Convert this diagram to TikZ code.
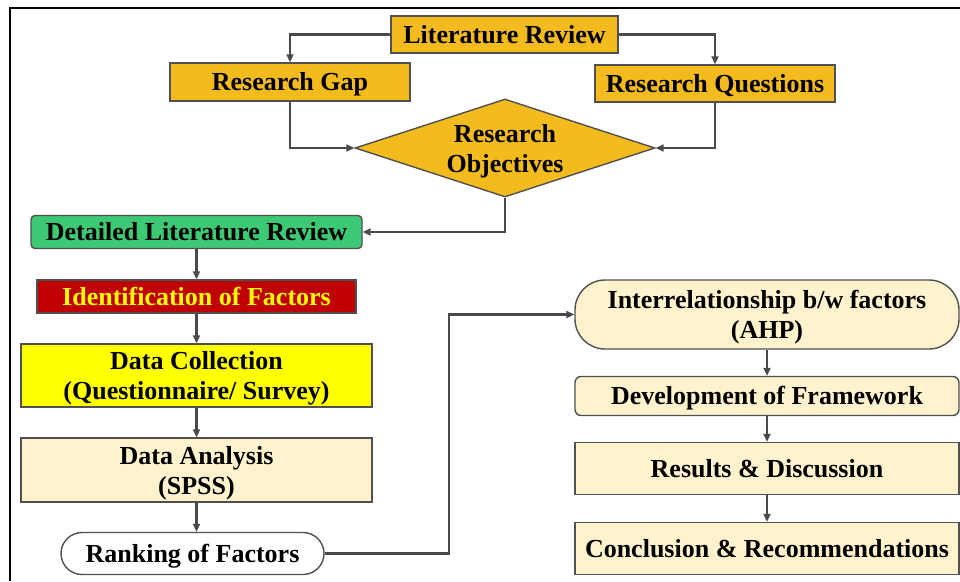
\documentclass[tikz,border=0pt]{standalone}
\usepackage{fontspec}
\setmainfont{Liberation Serif}
\usetikzlibrary{shapes.geometric,arrows.meta}
\definecolor{boxline}{HTML}{505050}
\definecolor{flowgray}{HTML}{4A4A4A}
\definecolor{goldfill}{HTML}{F4BB1F}
\definecolor{greenfill}{HTML}{3DC974}
\definecolor{redfill}{HTML}{C00000}
\definecolor{yellowfill}{HTML}{FFFF00}
\definecolor{creamfill}{HTML}{FFF2CC}
\begin{document}
\begin{tikzpicture}[
                x=1pt, y=-1pt,
                stage/.style={draw=boxline, line width=1.4pt, inner sep=0pt, align=center,
                    font=\fontsize{26}{30}\selectfont\bfseries, text height=18pt, text depth=1pt},
                twoline/.style={text height=48pt, text depth=0pt},
                gold/.style={stage, fill=goldfill},
                cream/.style={stage, fill=creamfill},
                flow/.style={draw=flowgray, line width=2.2pt, -{Triangle[length=8pt,width=7pt]}},
            ]
            \useasboundingbox (0,0) rectangle (960,581);
            \draw[line width=1.5pt] (10,581) -- (10,8) -- (960,8);

            % top block
            \node[gold, minimum width=227pt, minimum height=37pt] (lit) at (504.5,34.5) {Literature Review};
            \node[gold, minimum width=240pt, minimum height=38pt] (gap) at (290,82) {Research Gap};
            \node[gold, minimum width=240pt, minimum height=37pt] (ques) at (715,83.5) {Research Questions};
            \node[gold, diamond, minimum width=300pt, minimum height=98pt] (obj) at (505,148) {};
            \node[stage, twoline, draw=none] (objtext) at (obj.center) {Research\\Objectives};

            % left column
            \node[stage, fill=greenfill, rounded corners=4pt, minimum width=331pt, minimum height=33pt] (dlr) at (196.5,232) {Detailed Literature Review};
            \node[stage, fill=redfill, text=yellowfill, minimum width=319pt, minimum height=33pt] (ident) at (196.5,296.5) {Identification of Factors};
            \node[stage, twoline, fill=yellowfill, minimum width=351pt, minimum height=63pt] (coll) at (196.5,375.5) {Data Collection\\(Questionnaire/ Survey)};
            \node[cream, twoline, minimum width=351pt, minimum height=64pt] (anal) at (196.5,470) {Data Analysis\\(SPSS)};
            \node[stage, fill=white, rounded corners=21pt, minimum width=263pt, minimum height=42pt] (rank) at (192.5,553.5) {Ranking of Factors};

            % right column
            \node[cream, twoline, rounded corners=30pt, minimum width=384pt, minimum height=69pt] (inter) at (767,314.5) {Interrelationship b/w factors\\(AHP)};
            \node[cream, rounded corners=6pt, minimum width=384pt, minimum height=39pt] (dev) at (767,396) {Development of Framework};
            \node[cream, minimum width=384pt, minimum height=52pt] (res) at (767,468.5) {Results \& Discussion};
            \node[cream, minimum width=384pt, minimum height=52pt] (conc) at (767,548.5) {Conclusion \& Recommendations};

            \coordinate (turn) at (449,0);

            \draw[flow] (lit.west) -| (gap.north);
            \draw[flow] (lit.east) -| (ques.north);
            \draw[flow] (gap.south) |- (obj.west);
            \draw[flow] (ques.south) |- (obj.east);
            \draw[flow] (obj.south) |- (dlr.east);
            \draw[flow] (dlr.south) -- (ident.north);
            \draw[flow] (ident.south) -- (coll.north);
            \draw[flow] (coll.south) -- (anal.north);
            \draw[flow] (anal.south) -- (anal.south |- rank.north);
            \draw[flow] (rank.east) -- (rank.east -| turn) |- (inter.west);
            \draw[flow] (inter.south) -- (dev.north);
            \draw[flow] (dev.south) -- (res.north);
            \draw[flow] (res.south) -- (conc.north);
\end{tikzpicture}
\end{document}
